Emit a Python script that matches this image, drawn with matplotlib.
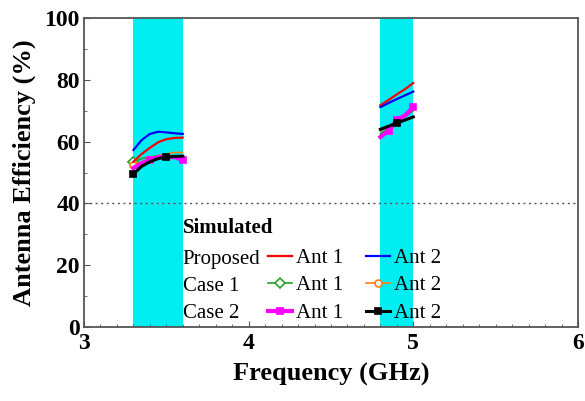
import numpy as np
import matplotlib
matplotlib.use('Agg')
from matplotlib import pyplot as plt
from matplotlib.ticker import MultipleLocator

plt.rcParams['font.family'] = ['Liberation Serif', 'DejaVu Serif']

# frequency grids (GHz) for the two operating bands
f_lo = [3.30, 3.35, 3.40, 3.45, 3.50, 3.55, 3.60]
f_hi = [4.80, 4.85, 4.90, 4.95, 5.00]

# simulated efficiency (%)
prop_ant1_lo = [53.5, 56.0, 58.0, 59.8, 60.8, 61.2, 61.3]
prop_ant2_lo = [57.3, 60.5, 62.5, 63.2, 63.0, 62.7, 62.5]
case1_ant1_lo = [53.4, 54.5, 55.0, 55.5, 55.5, 55.5, 55.0]
case1_ant2_lo = [52.5, 53.5, 54.5, 55.5, 56.0, 56.5, 56.5]
case2_ant1_lo = [51.5, 53.0, 54.0, 55.0, 55.0, 55.0, 54.0]
case2_ant2_lo = [49.5, 52.0, 53.5, 54.5, 55.0, 55.2, 55.3]

prop_ant1_hi = [71.8, 73.5, 75.3, 77.0, 79.0]
prop_ant2_hi = [71.2, 72.5, 73.8, 75.0, 76.2]
case1_ant1_hi = [62.5, 64.5, 66.5, 68.0, 70.0]
case1_ant2_hi = [63.5, 64.8, 66.0, 67.0, 68.0]
case2_ant1_hi = [61.5, 63.5, 67.0, 68.5, 71.2]
case2_ant2_hi = [64.0, 65.0, 66.0, 67.0, 68.0]

bands = [(3.3, 3.6), (4.8, 5.0)]
target = 40

fig = plt.figure(figsize=(5.85, 4.01), dpi=100)
ax = fig.add_axes([0.1436, 0.1845, 0.8444, 0.7705])

for b0, b1 in bands:
    ax.axvspan(b0, b1, color='#00eef2', lw=0, zorder=0)
ax.axhline(target, color='#555555', ls=(0, (1.5, 2.5)), lw=1.0, zorder=1)

styles = [
    # label, lo, hi, color, marker, mfc, lw, size, marks lo, marks hi
    ('Ant 1', case1_ant1_lo, case1_ant1_hi, '#2ca02c', 'D', 'white', 1.2, 5.0,
     [0], []),
    ('Ant 2', case1_ant2_lo, case1_ant2_hi, '#ff7f0e', 'o', 'white', 1.2, 5.0,
     [0], []),
    ('Ant 1', prop_ant1_lo, prop_ant1_hi, 'red', None, None, 1.6, 0,
     None, None),
    ('Ant 2', prop_ant2_lo, prop_ant2_hi, 'blue', None, None, 1.6, 0,
     None, None),
    ('Ant 1', case2_ant1_lo, case2_ant1_hi, 'magenta', 's', 'magenta', 3.0,
     4.5, [2, 6], [1, 2, 4]),
    ('Ant 2', case2_ant2_lo, case2_ant2_hi, 'black', 's', 'black', 2.2,
     4.5, [0, 4], [2]),
]
handles = []
for lab, lo, hi, c, m, mfc, lw, ms, mk_lo, mk_hi in styles:
    kw = dict(color=c, lw=lw, marker=m, mfc=mfc, ms=ms, mew=1.2, zorder=3)
    h, = ax.plot(f_lo, lo, markevery=mk_lo, **kw)
    ax.plot(f_hi, hi, markevery=mk_hi, **kw)
    handles.append(h)

# legend: rows = design, columns = antenna
order = [2, 0, 4, 3, 1, 5]
leg = ax.legend([handles[i] for i in order], [styles[i][0] for i in order],
                ncol=2, loc='upper left', bbox_to_anchor=(0.3725, 0.255),
                frameon=False, fontsize=15, handlelength=1.15,
                handletextpad=0.2, columnspacing=1.1, labelspacing=0.38,
                borderpad=0, borderaxespad=0, markerscale=1.0)
ax.text(3.6, 32.0, 'Simulated', fontsize=15, fontweight='bold', va='center')
for y, t in zip([22.0, 13.2, 4.5], ['Proposed', 'Case 1', 'Case 2']):
    ax.text(3.6, y, t, fontsize=15, va='center')

ax.set_xlim(3, 6)
ax.set_ylim(0, 100)
ax.xaxis.set_major_locator(MultipleLocator(1))
ax.xaxis.set_minor_locator(MultipleLocator(0.1))
ax.yaxis.set_major_locator(MultipleLocator(20))
ax.yaxis.set_minor_locator(MultipleLocator(10))
ax.tick_params(which='both', direction='in', top=False, right=False,
               color='#555555')
ax.tick_params(which='major', length=4, labelsize=17)
ax.tick_params(axis='x', which='major', pad=4)
ax.tick_params(axis='y', which='major', pad=3)
ax.tick_params(which='minor', length=2.5)
for lbl in ax.get_xticklabels() + ax.get_yticklabels():
    lbl.set_fontweight('bold')
for s in ax.spines.values():
    s.set_color('#555555')
    s.set_linewidth(1.3)

ax.set_xlabel('Frequency (GHz)', fontsize=19, fontweight='bold', labelpad=7)
ax.set_ylabel('Antenna Efficiency (%)', fontsize=19, fontweight='bold',
              labelpad=6)

fig.savefig('out.png', dpi=100)
